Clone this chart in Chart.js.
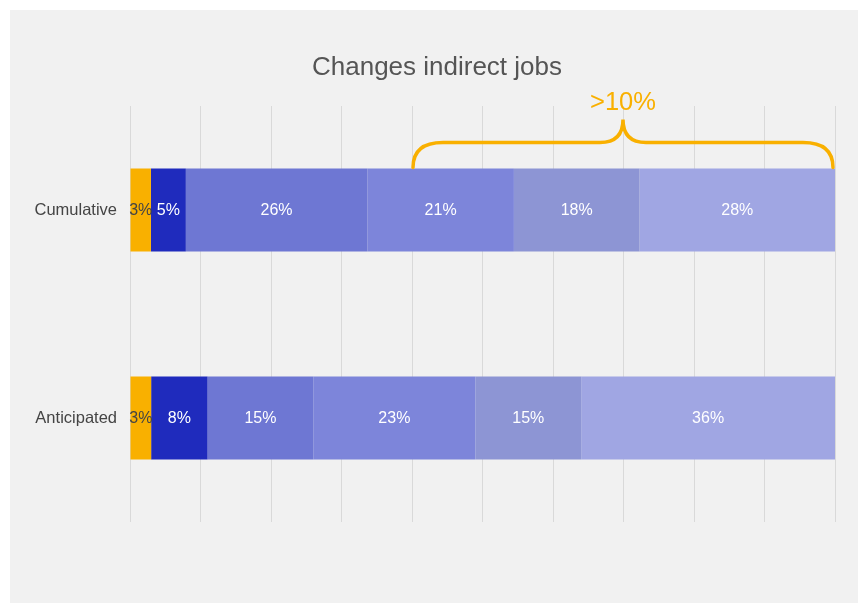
<!DOCTYPE html>
<html>
<head>
<meta charset="utf-8">
<title>Changes indirect jobs</title>
<script src="https://cdn.jsdelivr.net/npm/chart.js@4/dist/chart.umd.min.js"></script>
<style>
    body { margin: 0; background: #ffffff; }
    #wrap { width: 868px; height: 606px; }
</style>
</head>
<body>
<div id="wrap"><canvas id="indirectJobsChart" width="868" height="606"></canvas></div>
<script>
// Share of indirect job changes per row, in percent
const chartTitle = 'Changes indirect jobs';
const categories = ['Cumulative', 'Anticipated'];
const seriesNames = ['Band 1', 'Band 2', 'Band 3', 'Band 4', 'Band 5', 'Band 6'];
const cumulative = [3, 5, 26, 21, 18, 28];
const anticipated = [3, 8, 15, 23, 15, 36];
const seriesColors = ['#f9b000', '#1f2bbd', '#6e77d3', '#7d85da', '#8d95d4', '#a0a6e3'];
const labelColors = ['#444444', '#ffffff', '#ffffff', '#ffffff', '#ffffff', '#ffffff'];
const braceFrom = 40;
const braceTo = 100;
const braceText = '>10%';

const rows = [cumulative, anticipated];
const rowTotals = rows.map(r => r.reduce((a, b) => a + b, 0));

// each row is shown as a full 100% bar
const datasets = seriesNames.map((name, i) => ({
    label: name,
    data: rows.map((r, j) => r[i] / rowTotals[j] * 100),
    raw: rows.map(r => r[i]),
    backgroundColor: seriesColors[i],
    borderWidth: 0,
    categoryPercentage: 0.8,
    barPercentage: 0.5
}));

const fontFamily = '"Liberation Sans", Arial, sans-serif';

// grey panel and title
const panelPlugin = {
    id: 'panel',
    beforeDraw(chart) {
        const ctx = chart.ctx;
        ctx.save();
        ctx.fillStyle = '#f1f1f1';
        ctx.fillRect(10, 10, 848, 593);
        ctx.fillStyle = '#555555';
        ctx.font = '26px ' + fontFamily;
        ctx.textAlign = 'center';
        ctx.textBaseline = 'middle';
        ctx.fillText(chartTitle, 437, 68);
        ctx.restore();
    }
};

// percent labels in the middle of each segment
const segmentLabels = {
    id: 'segmentLabels',
    afterDatasetsDraw(chart) {
        const ctx = chart.ctx;
        ctx.save();
        ctx.font = '16px ' + fontFamily;
        ctx.textAlign = 'center';
        ctx.textBaseline = 'middle';
        chart.data.datasets.forEach((ds, i) => {
            chart.getDatasetMeta(i).data.forEach((bar, j) => {
                const cx = (bar.x + bar.base) / 2;
                ctx.fillStyle = labelColors[i];
                ctx.fillText(ds.raw[j] + '%', cx, bar.y + 1);
            });
        });
        ctx.restore();
    }
};

// curly brace over the top bar
const bracePlugin = {
    id: 'brace',
    afterDraw(chart) {
        const ctx = chart.ctx;
        const x = chart.scales.x;
        const top = chart.getDatasetMeta(0).data[0];
        const yEnd = top.y - top.height / 2 - 1;
        const x0 = x.getPixelForValue(braceFrom) + 1;
        const x1 = x.getPixelForValue(braceTo) - 2;
        const xm = (x0 + x1) / 2;
        const yMid = yEnd - 25;
        const yPeak = yEnd - 48;
        const r = 30;
        const r2 = 23;
        ctx.save();
        ctx.strokeStyle = '#f9b000';
        ctx.lineWidth = 3.5;
        ctx.lineCap = 'round';
        ctx.beginPath();
        ctx.moveTo(x0, yEnd);
        ctx.quadraticCurveTo(x0, yMid, x0 + r, yMid);
        ctx.lineTo(xm - r2, yMid);
        ctx.quadraticCurveTo(xm, yMid, xm, yPeak);
        ctx.quadraticCurveTo(xm, yMid, xm + r2, yMid);
        ctx.lineTo(x1 - r, yMid);
        ctx.quadraticCurveTo(x1, yMid, x1, yEnd);
        ctx.stroke();
        ctx.fillStyle = '#f9b000';
        ctx.font = '25.5px ' + fontFamily;
        ctx.textAlign = 'center';
        ctx.textBaseline = 'middle';
        ctx.fillText(braceText, xm, yPeak - 16);
        ctx.restore();
    }
};

new Chart(document.getElementById('indirectJobsChart').getContext('2d'), {
    type: 'bar',
    data: {
        labels: categories,
        datasets: datasets
    },
    options: {
        indexAxis: 'y',
        responsive: false,
        animation: false,
        layout: {
            padding: { left: 10, right: 33, top: 106, bottom: 84 }
        },
        plugins: {
            legend: { display: false },
            tooltip: { enabled: false },
            title: { display: false }
        },
        scales: {
            x: {
                stacked: true,
                min: 0,
                max: 100,
                ticks: { display: false, stepSize: 10 },
                grid: { color: '#d9d9d9', drawTicks: false },
                border: { display: false }
            },
            y: {
                stacked: true,
                ticks: {
                    color: '#444444',
                    padding: 5,
                    font: { size: 16.5, family: fontFamily }
                },
                grid: { display: false },
                border: { display: false },
                afterFit(scale) { scale.width = 120; }
            }
        }
    },
    plugins: [panelPlugin, segmentLabels, bracePlugin]
});
</script>
</body>
</html>
